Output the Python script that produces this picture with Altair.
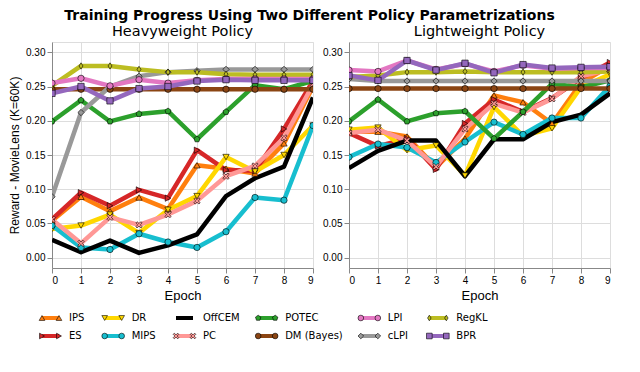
import altair as alt
import pandas as pd

epochs = list(range(10))

# draw order (first = bottom)
series_names = ["IPS", "ES", "DR", "MIPS", "PC", "OffCEM", "POTEC",
                "DM (Bayes)", "cLPI", "RegKL", "LPI", "BPR"]
series_colors = ["#ff7f0e", "#d62728", "#ffd700", "#17becf", "#ff9896", "#000000",
                 "#2ca02c", "#8b4513", "#999999", "#bcbd22", "#e377c2", "#9467bd"]
X_PATH = "M-1,-0.6L-0.6,-1L0,-0.4L0.6,-1L1,-0.6L0.4,0L1,0.6L0.6,1L0,0.4L-0.6,1L-1,0.6L-0.4,0Z"
THIN_DIAMOND = "M0,-1L0.62,0L0,1L-0.62,0Z"
PENTAGON = "M0,-1L0.951,-0.309L0.588,0.809L-0.588,0.809L-0.951,-0.309Z"
series_shapes = ["triangle-up", "triangle-right", "triangle-down", "circle", X_PATH, "circle",
                 PENTAGON, "circle", "diamond", THIN_DIAMOND, "circle", "square"]

legend_rows = [["IPS", "DR", "OffCEM", "POTEC", "LPI", "RegKL"],
               ["ES", "MIPS", "PC", "DM (Bayes)", "cLPI", "BPR"]]

# Heavyweight policy
heavy_ips = [0.054, 0.089, 0.068, 0.088, 0.071, 0.135, 0.130, 0.123, 0.167, 0.250]
heavy_es = [0.056, 0.095, 0.076, 0.099, 0.087, 0.157, 0.128, 0.127, 0.188, 0.258]
heavy_dr = [0.042, 0.047, 0.063, 0.036, 0.070, 0.090, 0.147, 0.126, 0.150, 0.193]
heavy_mips = [0.047, 0.015, 0.012, 0.035, 0.023, 0.015, 0.038, 0.088, 0.084, 0.193]
heavy_pc = [0.056, 0.021, 0.059, 0.048, 0.063, 0.083, 0.119, 0.134, 0.175, 0.253]
heavy_offcem = [0.026, 0.008, 0.025, 0.007, 0.018, 0.034, 0.090, 0.116, 0.133, 0.234]
heavy_potec = [0.199, 0.230, 0.199, 0.210, 0.214, 0.173, 0.213, 0.252, 0.246, 0.258]
heavy_dm = [0.246, 0.246, 0.246, 0.246, 0.246, 0.246, 0.246, 0.246, 0.246, 0.246]
heavy_clpi = [0.089, 0.212, 0.250, 0.265, 0.271, 0.273, 0.275, 0.275, 0.275, 0.275]
heavy_regkl = [0.251, 0.280, 0.280, 0.275, 0.271, 0.271, 0.268, 0.267, 0.267, 0.267]
heavy_lpi = [0.255, 0.262, 0.251, 0.260, 0.255, 0.259, 0.261, 0.261, 0.261, 0.261]
heavy_bpr = [0.240, 0.250, 0.229, 0.247, 0.250, 0.258, 0.260, 0.259, 0.259, 0.259]

# Lightweight policy
light_ips = [0.184, 0.184, 0.177, 0.132, 0.174, 0.237, 0.227, 0.196, 0.255, 0.280]
light_es = [0.182, 0.163, 0.174, 0.129, 0.196, 0.231, 0.213, 0.233, 0.262, 0.285]
light_dr = [0.187, 0.190, 0.157, 0.164, 0.120, 0.220, 0.178, 0.189, 0.249, 0.268]
light_mips = [0.147, 0.166, 0.161, 0.139, 0.169, 0.198, 0.180, 0.204, 0.204, 0.251]
light_pc = [0.182, 0.187, 0.171, 0.133, 0.188, 0.225, 0.212, 0.232, 0.265, 0.275]
light_offcem = [0.131, 0.156, 0.171, 0.171, 0.119, 0.173, 0.173, 0.198, 0.209, 0.240]
light_potec = [0.199, 0.231, 0.199, 0.211, 0.214, 0.174, 0.213, 0.254, 0.249, 0.259]
light_dm = [0.247, 0.247, 0.247, 0.247, 0.247, 0.247, 0.247, 0.247, 0.247, 0.247]
light_clpi = [0.261, 0.258, 0.258, 0.258, 0.258, 0.258, 0.258, 0.258, 0.258, 0.258]
light_regkl = [0.264, 0.266, 0.271, 0.271, 0.272, 0.271, 0.271, 0.271, 0.271, 0.272]
light_lpi = [0.274, 0.272, 0.288, 0.275, 0.283, 0.272, 0.281, 0.276, 0.277, 0.277]
light_bpr = [0.266, 0.259, 0.288, 0.274, 0.284, 0.270, 0.282, 0.277, 0.278, 0.279]

heavy = [heavy_ips, heavy_es, heavy_dr, heavy_mips, heavy_pc, heavy_offcem, heavy_potec,
         heavy_dm, heavy_clpi, heavy_regkl, heavy_lpi, heavy_bpr]
light = [light_ips, light_es, light_dr, light_mips, light_pc, light_offcem, light_potec,
         light_dm, light_clpi, light_regkl, light_lpi, light_bpr]

FONT = "DejaVu Sans"
color_scale = alt.Scale(domain=series_names, range=series_colors)
shape_scale = alt.Scale(domain=series_names, range=series_shapes)


def make_df(vals):
    rows = []
    for k, (name, ys) in enumerate(zip(series_names, vals)):
        for e, v in zip(epochs, ys):
            rows.append({"series": name, "epoch": e, "value": v, "k": k})
    return pd.DataFrame(rows)


def panel(vals, title, show_ytitle):
    df = make_df(vals)
    base = alt.Chart(df)
    x = alt.X("epoch:Q", scale=alt.Scale(domain=[0, 9], nice=False),
              axis=alt.Axis(values=epochs, title="Epoch", format="d",
                            titleFontWeight="normal", titleFontSize=13))
    yaxis_kw = dict(values=[0, 0.05, 0.10, 0.15, 0.20, 0.25, 0.30], format=".2f")
    if show_ytitle:
        yaxis_kw.update(title="Reward - MovieLens (K=60K)", titleFontWeight="normal",
                        titleFontSize=12)
    else:
        yaxis_kw.update(title=None)
    y = alt.Y("value:Q", scale=alt.Scale(domain=[-0.015, 0.315], nice=False, zero=False),
              axis=alt.Axis(**yaxis_kw))
    lines = base.mark_line(strokeWidth=4.5, strokeJoin="round", clip=True).encode(
        x=x, y=y,
        color=alt.Color("series:N", scale=color_scale, legend=None),
        order=alt.Order("epoch:Q"),
    )
    pts = base.transform_filter(alt.datum.series != "OffCEM").mark_point(
        filled=True, size=40, stroke="black", strokeWidth=0.6, opacity=1, clip=True
    ).encode(
        x=x, y=y,
        fill=alt.Fill("series:N", scale=color_scale, legend=None),
        shape=alt.Shape("series:N", scale=shape_scale, legend=None),
    )
    return alt.layer(lines, pts).properties(
        width=261, height=226,
        title=alt.TitleParams(title, fontSize=14.5, font=FONT, fontWeight="normal", offset=3),
    )


left = panel(heavy, "Heavyweight Policy", True)
right = panel(light, "Lightweight Policy", False)

# legend built from the series names
LEG_FS = 10


def text_w(s):
    w = 0.0
    for ch in s:
        if ch in "MW":
            w += 10.4
        elif ch == "I":
            w += 3.6
        elif ch in " ()":
            w += 4.4
        elif ch == "f":
            w += 4.2
        elif ch.isupper():
            w += 8.2
        else:
            w += 7.0
    return w * LEG_FS / 12.0


leg = []
cx = -10.0
for c in range(len(legend_rows[0])):
    names = [legend_rows[0][c], legend_rows[1][c]]
    for r, name in enumerate(names):
        leg.append({"series": name, "row": r, "lx": cx, "lx2": cx + 17, "tx": cx + 27,
                    "marker": 0 if name == "OffCEM" else 1})
    cx += 46 + max(text_w(n) for n in names)
leg_df = pd.DataFrame(leg)
LW = 520
lx_scale = alt.Scale(domain=[0, LW], nice=False, zero=False)
ly_scale = alt.Scale(domain=[-0.5, 1.5], reverse=True, nice=False, zero=False)
lbase = alt.Chart(leg_df)
lrule = lbase.mark_rule(strokeWidth=4).encode(
    x=alt.X("lx:Q", scale=lx_scale, axis=None), x2="lx2:Q",
    y=alt.Y("row:Q", scale=ly_scale, axis=None),
    color=alt.Color("series:N", scale=color_scale, legend=None),
)
lpts = []
for fld in ["lx", "lx2"]:
    lpts.append(lbase.transform_filter(alt.datum.marker == 1).mark_point(
        filled=True, size=32, stroke="black", strokeWidth=0.6, opacity=1).encode(
        x=alt.X(f"{fld}:Q", scale=lx_scale, axis=None),
        y=alt.Y("row:Q", scale=ly_scale, axis=None),
        fill=alt.Fill("series:N", scale=color_scale, legend=None),
        shape=alt.Shape("series:N", scale=shape_scale, legend=None),
    ))
ltext = lbase.mark_text(align="left", baseline="middle", fontSize=LEG_FS, font=FONT,
                        color="black").encode(
    x=alt.X("tx:Q", scale=lx_scale, axis=None),
    y=alt.Y("row:Q", scale=ly_scale, axis=None),
    text="series:N",
)
legend_chart = alt.layer(lrule, *lpts, ltext).properties(
    width=LW, height=36, view=alt.ViewBackground(stroke=None))

chart = alt.vconcat(
    alt.hconcat(left, right, spacing=8),
    legend_chart,
    spacing=6,
).properties(
    title=alt.TitleParams("Training Progress Using Two Different Policy Parametrizations",
                          fontSize=14, font=FONT, fontWeight="bold", anchor="middle", offset=0),
    padding={"left": 0, "top": 1, "right": 0, "bottom": 0},
).configure_view(
    stroke="black", strokeWidth=1.2
).configure_axis(
    labelFont=FONT, titleFont=FONT, labelFontSize=10.5, titleFontSize=13,
    titleFontWeight="normal", labelColor="black", titleColor="black",
    grid=True, gridColor="#b0b0b0", gridDash=[1, 2], gridWidth=0.9,
    domain=False, ticks=True, tickSize=3, tickColor="black", labelPadding=2,
).configure_axisY(
    titlePadding=4,
).configure_axisX(
    titlePadding=3,
).configure(background="white")

chart.save("out.html", embed_options={"renderer": "svg", "actions": False})
